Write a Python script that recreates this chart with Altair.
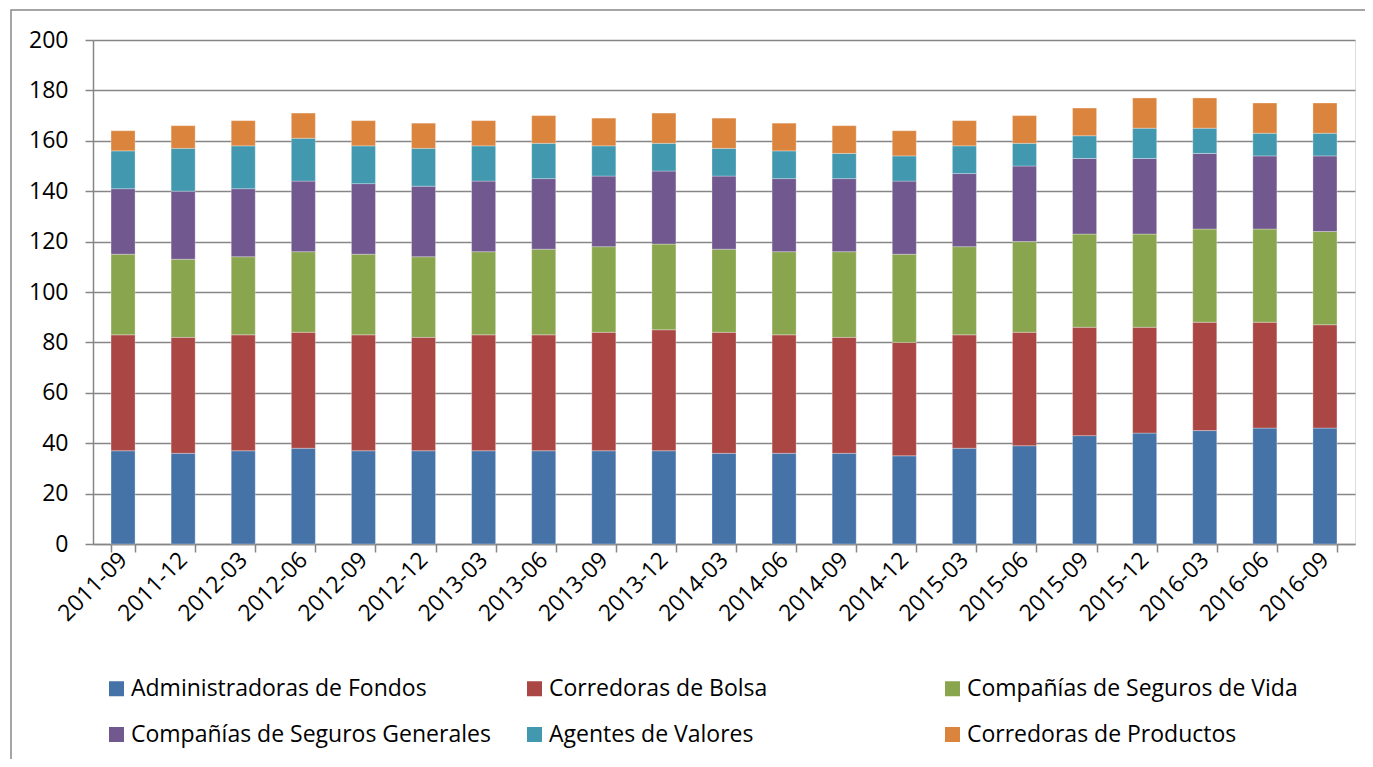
import altair as alt
import pandas as pd

periods = ["2011-09", "2011-12", "2012-03", "2012-06", "2012-09", "2012-12",
           "2013-03", "2013-06", "2013-09", "2013-12", "2014-03", "2014-06",
           "2014-09", "2014-12", "2015-03", "2015-06", "2015-09", "2015-12",
           "2016-03", "2016-06", "2016-09"]

series_names = ["Administradoras de Fondos", "Corredoras de Bolsa",
                "Compañías de Seguros de Vida", "Compañías de Seguros Generales",
                "Agentes de Valores", "Corredoras de Productos"]

administradoras = [37, 36, 37, 38, 37, 37, 37, 37, 37, 37, 36, 36, 36, 35, 38, 39, 43, 44, 45, 46, 46]
corredoras_bolsa = [46, 46, 46, 46, 46, 45, 46, 46, 47, 48, 48, 47, 46, 45, 45, 45, 43, 42, 43, 42, 41]
seguros_vida = [32, 31, 31, 32, 32, 32, 33, 34, 34, 34, 33, 33, 34, 35, 35, 36, 37, 37, 37, 37, 37]
seguros_generales = [26, 27, 27, 28, 28, 28, 28, 28, 28, 29, 29, 29, 29, 29, 29, 30, 30, 30, 30, 29, 30]
agentes_valores = [15, 17, 17, 17, 15, 15, 14, 14, 12, 11, 11, 11, 10, 10, 11, 9, 9, 12, 10, 9, 9]
corredoras_productos = [8, 9, 10, 10, 10, 10, 10, 11, 11, 12, 12, 11, 11, 10, 10, 11, 11, 12, 12, 12, 12]

colors = ["#4572A7", "#AA4643", "#89A54E", "#71588F", "#4198AF", "#DB843D"]

all_series = [administradoras, corredoras_bolsa, seguros_vida,
              seguros_generales, agentes_valores, corredoras_productos]

rows = []
for si, (name, vals) in enumerate(zip(series_names, all_series)):
    for p, v in zip(periods, vals):
        rows.append({"periodo": p, "serie": name, "valor": v, "orden": si})
df = pd.DataFrame(rows)

FONT = "Open Sans"

bars = alt.Chart(df).mark_bar(stroke="white", strokeWidth=0.6, strokeOpacity=0.5).encode(
    x=alt.X("periodo:N", sort=periods, title=None,
            scale=alt.Scale(paddingInner=0.6, paddingOuter=0.3),
            axis=alt.Axis(labelAngle=-45, labelAlign="right", labelBaseline="middle",
                          tickBand="extent", tickSize=8, labelPadding=4,
                          domainColor="#868686", tickColor="#868686",
                          labelFontSize=23, labelColor="black", labelFont=FONT,
                          domainWidth=1.5, tickWidth=1.5)),
    y=alt.Y("valor:Q", stack="zero", title=None,
            scale=alt.Scale(domain=[0, 200], nice=False),
            axis=alt.Axis(values=list(range(0, 201, 20)), tickSize=8, labelPadding=17,
                          domainColor="#868686", tickColor="#868686",
                          gridColor="#868686", gridWidth=1.5,
                          labelFontSize=23, labelColor="black", labelFont=FONT,
                          domainWidth=1.5, tickWidth=1.5)),
    color=alt.Color("serie:N", sort=series_names,
                    scale=alt.Scale(domain=series_names, range=colors),
                    legend=alt.Legend(orient="none", legendX=12, legendY=637,
                                      direction="horizontal", columns=3,
                                      gridAlign="all", columnPadding=32, rowPadding=22,
                                      symbolType="square", symbolSize=225,
                                      symbolStrokeWidth=0, labelOffset=3,
                                      labelFontSize=23, labelFont=FONT,
                                      labelColor="black", labelLimit=600,
                                      title=None, padding=0)),
    order=alt.Order("orden:Q", sort="ascending"),
)

frame = alt.Chart(pd.DataFrame({"k": [0]})).mark_rect(
    fill=None, stroke="#888888", strokeWidth=1.5
).encode(
    x=alt.value(-82), x2=alt.value(1300), y=alt.value(-30), y2=alt.value(760)
)

chart = alt.layer(bars, frame).properties(
    width=1262, height=504,
    padding={"left": 85, "top": 32, "right": 10, "bottom": 215},
    autosize=alt.AutoSizeParams(type="none"),
).configure_view(stroke=None).configure(background="white")

chart.save("out.html", embed_options={"renderer": "svg", "actions": False})
